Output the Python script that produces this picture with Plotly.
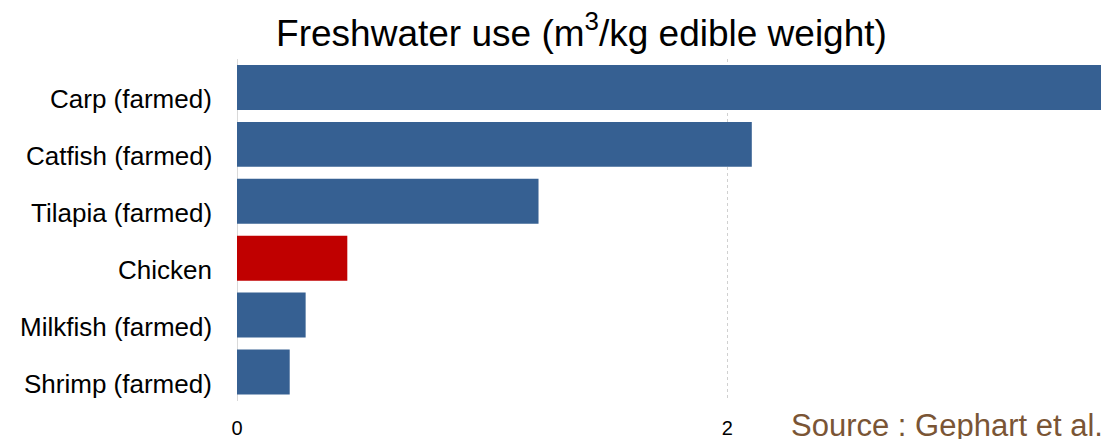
import plotly.graph_objects as go

# Freshwater use per kg edible weight (m3/kg)
categories = ["Carp (farmed)", "Catfish (farmed)", "Tilapia (farmed)",
              "Chicken", "Milkfish (farmed)", "Shrimp (farmed)"]
values = [3.7, 2.1, 1.23, 0.45, 0.28, 0.215]
highlight = "Chicken"

tick_vals = [0, 2]
tick_text = ["0", "2"]

BLUE = "#366092"
RED = "#C00000"
colors = [RED if c == highlight else BLUE for c in categories]

fig = go.Figure(go.Bar(
    x=values,
    y=categories,
    orientation="h",
    marker=dict(color=colors, line=dict(width=0)),
    hoverinfo="x+y",
))

# Category labels sit slightly below the bar centres
label_annotations = [dict(
    text=c,
    xref="paper", yref="y",
    x=0, y=c,
    xanchor="right", yanchor="middle",
    xshift=-23, yshift=-12,
    showarrow=False,
    font=dict(size=26, color="black"),
) for c in categories]

source_annotation = dict(
    text="Source : Gephart et al.",
    xref="paper", yref="paper",
    x=(789 - 237) / (1101 - 237), y=-(425 - 401) / (401 - 59),
    xanchor="left", yanchor="middle",
    showarrow=False,
    font=dict(size=31, color="#7A5535"),
)

fig.update_layout(
    width=1101,
    height=439,
    margin=dict(l=237, r=0, t=59, b=38, autoexpand=False),
    paper_bgcolor="white",
    plot_bgcolor="white",
    bargap=0.21,
    showlegend=False,
    font=dict(family="Liberation Sans, Arial, sans-serif", color="black"),
    title=dict(
        text="Freshwater use (m<sup>3</sup>/kg edible weight)",
        x=581.5 / 1101,
        xanchor="center",
        y=1 - 33 / 439,
        yanchor="middle",
        font=dict(size=37, color="black"),
    ),
    xaxis=dict(
        range=[0, (1101 - 237.5) / 245],
        tickvals=tick_vals,
        ticktext=tick_text,
        showgrid=True,
        gridcolor="#d0d0d0",
        griddash="dot",
        gridwidth=1,
        zeroline=False,
        showline=False,
        ticks="",
        tickfont=dict(size=20, color="black"),
        ticklabelstandoff=13,
        automargin=False,
        fixedrange=True,
    ),
    yaxis=dict(
        categoryorder="array",
        categoryarray=categories[::-1],
        showgrid=False,
        zeroline=False,
        showline=False,
        ticks="",
        showticklabels=False,
        automargin=False,
        fixedrange=True,
    ),
    shapes=[dict(
        type="line", xref="x", yref="paper",
        x0=0, x1=0, y0=0, y1=1,
        line=dict(color="#d9d9d9", width=2),
        layer="below",
    )],
    annotations=label_annotations + [source_annotation],
)

fig.write_html("out.html")
